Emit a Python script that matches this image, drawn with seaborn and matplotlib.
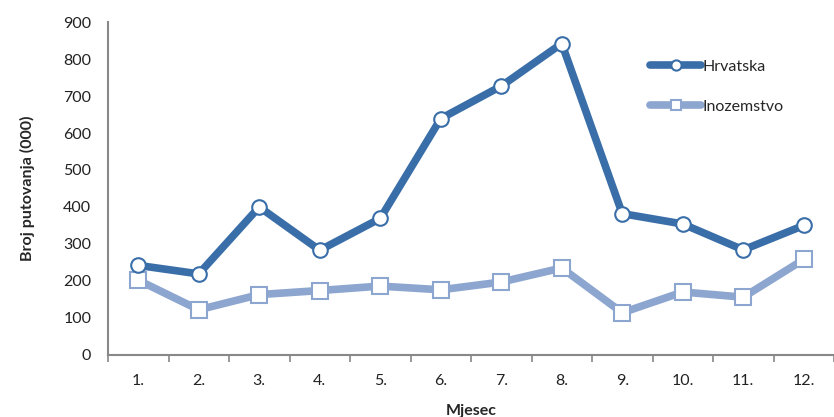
import numpy as np
import pandas as pd
import matplotlib
matplotlib.use("Agg")
import matplotlib.pyplot as plt
import seaborn as sns

# -------------------------
# Data
# -------------------------
months = [1, 2, 3, 4, 5, 6, 7, 8, 9, 10, 11, 12]
month_labels = ["1.", "2.", "3.", "4.", "5.", "6.", "7.", "8.", "9.", "10.", "11.", "12."]
hrvatska = [242, 219, 400, 283, 369, 639, 727, 842, 382, 354, 284, 350]
inozemstvo = [202, 122, 163, 174, 186, 176, 197, 235, 114, 170, 156, 258]

dark_blue = "#3A6EA8"
light_blue = "#8DA6CF"

sns.set_style("white")
plt.rcParams['font.family'] = ['Lato', 'DejaVu Sans']

fig = plt.figure(figsize=(8.34, 4.17), dpi=100)
ax = fig.add_axes([0.1295, 0.149, 0.8705, 0.798])

df_hr = pd.DataFrame({"mjesec": months, "broj": hrvatska})
df_in = pd.DataFrame({"mjesec": months, "broj": inozemstvo})

sns.lineplot(data=df_in, x="mjesec", y="broj", ax=ax, color=light_blue, lw=5.5,
             marker="s", markersize=11, markerfacecolor="white",
             markeredgecolor=light_blue, markeredgewidth=1.5, label="Inozemstvo", zorder=3)
sns.lineplot(data=df_hr, x="mjesec", y="broj", ax=ax, color=dark_blue, lw=5.5,
             marker="o", markersize=10.5, markerfacecolor="white",
             markeredgecolor=dark_blue, markeredgewidth=1.5, label="Hrvatska", zorder=4)

ax.set_ylim(0, 900)
ax.set_xlim(0.5, 12.33)
ax.set_yticks(np.arange(0, 901, 100))
ax.set_xticks(months)
ax.set_xticklabels(month_labels)
ax.set_xticks(np.arange(0.5, 12.6, 1), minor=True)

ax.tick_params(axis="x", which="major", length=0, pad=14, labelsize=11.5, colors="#222222")
ax.tick_params(axis="x", which="minor", length=5, width=1.2, color="#888888", direction="out")
ax.tick_params(axis="y", length=5, width=1.2, color="#888888", direction="out",
               pad=7, labelsize=11.5, labelcolor="#222222")
ax.tick_params(axis="x", which="both", bottom=True)

for s in ["top", "right"]:
    ax.spines[s].set_visible(False)
for s in ["left", "bottom"]:
    ax.spines[s].set_color("#888888")
    ax.spines[s].set_linewidth(1.5)

ax.set_xlabel("Mjesec", fontsize=11.5, fontweight="bold", labelpad=11)
ax.set_ylabel("Broj putovanja (000)", fontsize=11.5, fontweight="bold", labelpad=20)

handles, labels = ax.get_legend_handles_labels()
order = [labels.index("Hrvatska"), labels.index("Inozemstvo")]
ax.legend([handles[i] for i in order], [labels[i] for i in order],
          loc="upper left", bbox_to_anchor=(0.727, 0.93), frameon=False,
          fontsize=11.5, handlelength=3.2, handletextpad=0.1, labelspacing=1.6,
          markerscale=0.7)

fig.savefig("out.png", dpi=100)
